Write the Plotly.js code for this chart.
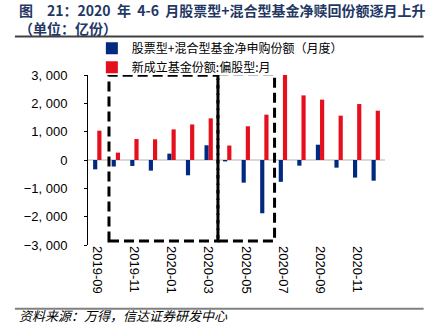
<!DOCTYPE html>
<html>
<head>
<meta charset="utf-8">
<script src="https://cdn.plot.ly/plotly-3.0.1.min.js"></script>
<style>html,body{margin:0;padding:0;background:#fff;}#chart{width:437px;height:326px;}</style>
</head>
<body>
<div id="chart"></div>
<script>
const months = ["2019-09","2019-10","2019-11","2019-12","2020-01","2020-02","2020-03","2020-04","2020-05","2020-06","2020-07","2020-08","2020-09","2020-10","2020-11","2020-12"];
const netSubscription = [-330,-230,-210,-375,225,-540,520,-50,-800,-1880,-770,-200,540,-270,-620,-730];
const newFundShares = [1035,260,740,730,1080,1255,1470,510,1190,1600,3050,2280,2130,1565,1975,1740];
const tickLabels = ["2019-09","2019-11","2020-01","2020-03","2020-05","2020-07","2020-09","2020-11"];
const yTicks = [-3000,-2000,-1000,0,1000,2000,3000];
const yTickText = ["\u22123, 000","\u22122, 000","\u22121, 000","0","1, 000","2, 000","3, 000"];

const sans = "Liberation Sans, Arial, sans-serif";
const cjk = "Noto Sans CJK SC, sans-serif";

const traces = [
  {type:"bar", name:"股票型+混合型基金净申购份额（月度）", x:months, y:netSubscription,
   marker:{color:"#002A7F"}, hoverinfo:"x+y"},
  {type:"bar", name:"新成立基金份额:偏股型:月", x:months, y:newFundShares,
   marker:{color:"#E50F1E"}, hoverinfo:"x+y"}
];

const dash = {color:"#000", width:3, dash:"10px,5px"};
const layout = {
  width:437, height:326,
  margin:{l:88, r:52, t:75, b:81},
  paper_bgcolor:"#fff", plot_bgcolor:"#fff",
  barmode:"group", bargap:0.55, bargroupgap:0,
  showlegend:true,
  legend:{x:0.013, xanchor:"left", y:1.242, yanchor:"top", orientation:"v",
    bgcolor:"rgba(0,0,0,0)", font:{family:cjk, size:12, color:"#000"}, tracegroupgap:0},
  xaxis:{type:"category", tickvals:tickLabels, ticktext:tickLabels, tickangle:90,
    showline:false, showgrid:false, zeroline:false, ticks:"",
    tickfont:{family:sans, size:13, color:"#000"}, automargin:false},
  yaxis:{range:[-3000,3000], tickvals:yTicks, ticktext:yTickText, showgrid:false,
    zeroline:true, zerolinecolor:"#D9D9D9", zerolinewidth:2, ticklabelstandoff:14,
    showline:true, linecolor:"#000", linewidth:1, ticks:"outside", ticklen:3, tickcolor:"#000",
    tickfont:{family:sans, size:13, color:"#000"}, automargin:false},
  shapes:[
    {type:"rect", xref:"x", yref:"y", x0:0.63, x1:6.5, y0:-2860, y1:2990, line:dash, fillcolor:"rgba(0,0,0,0)"},
    {type:"rect", xref:"x", yref:"y", x0:6.5, x1:9.55, y0:-2860, y1:3040, line:dash, fillcolor:"rgba(0,0,0,0)"},
    {type:"line", xref:"paper", yref:"paper", x0:-0.246, x1:1.13, y0:1.226, y1:1.226, line:{color:"#404040", width:2}},
    {type:"line", xref:"paper", yref:"paper", x0:-0.246, x1:1.13, y0:-0.375, y1:-0.375, line:{color:"#808080", width:2}}
  ],
  annotations:[
    {xref:"paper", yref:"paper", x:-0.24, y:1.452, xanchor:"left", yanchor:"top", align:"left", showarrow:false,
     text:"<b>图\u300021：2020\u00a0\u00a0年\u00a0\u00a04-6\u00a0\u00a0月股票型+混合型基金净赎回份额逐月上升<br>（单位：亿份）</b>",
     font:{family:cjk, size:14, color:"#1F3864"}},
    {xref:"paper", yref:"paper", x:-0.24, y:-0.412, xanchor:"left", yanchor:"middle", showarrow:false,
     text:"<i>资料来源：万得，信达证券研发中心</i>",
     font:{family:cjk, size:13, color:"#000"}}
  ]
};

Plotly.newPlot("chart", traces, layout, {displayModeBar:false, staticPlot:true});
</script>
</body>
</html>
